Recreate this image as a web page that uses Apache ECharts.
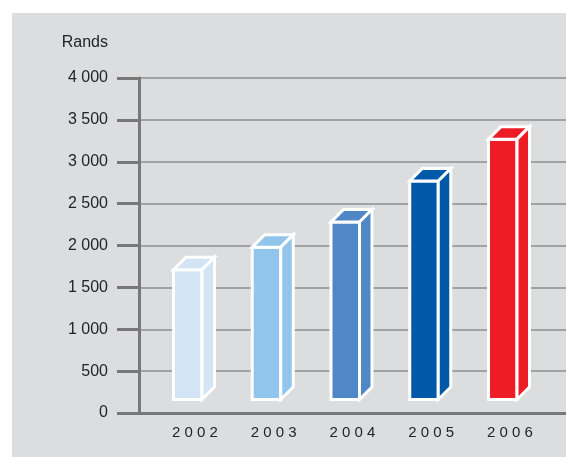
<!DOCTYPE html>
<html>
<head>
<meta charset="utf-8">
<title>Rands 2002–2006</title>
<script src="https://cdn.jsdelivr.net/npm/echarts@6/dist/echarts.min.js"></script>
<style>
  html, body { margin: 0; padding: 0; background: #ffffff; }
  #panel { position: absolute; left: 12px; top: 13px; width: 554px; height: 444px; background: #dcdddf; }
  #chart { position: absolute; left: 0; top: 0; width: 566px; height: 457px; }
</style>
</head>
<body>
<div id="panel"></div>
<div id="chart"></div>
<script>
// Yearly amounts in rands
const years = ['2002', '2003', '2004', '2005', '2006'];
const rands = [1710, 1980, 2280, 2770, 3270];

// Value axis range and step
const axisMin = 0;
const axisMax = 4000;
const axisStep = 500;
const axisTitle = 'Rands';

// Face colour of each column
const barColors = ['#d3e4f4', '#92c5ec', '#4f87c7', '#0058a8', '#ee1c25'];

const font = '"Liberation Sans", Arial, Helvetica, sans-serif';
const axisGrey = '#787878';
const textColor = '#242424';

// "4 000" style thousands grouping
function groupThousands(v) {
  return String(v).replace(/\B(?=(\d{3})+(?!\d))/g, ' ');
}

// Draws one column as a box: front face, top face and right side
function renderColumn(params, api) {
  const topPt = api.coord([api.value(0), api.value(1)]);
  const basePt = api.coord([api.value(0), 0]);
  const cx = topPt[0];
  const top = topPt[1];
  const depth = 12.5;
  const left = cx - 21.5;
  const edge = cx + 7;
  const right = edge + depth;
  const bottom = basePt[1] - 13.5;
  const style = {
    fill: barColors[params.dataIndex],
    stroke: '#ffffff',
    lineWidth: 3,
    lineJoin: 'miter'
  };
  return {
    type: 'group',
    children: [
      { type: 'polygon', shape: { points: [[left, top], [edge, top], [edge, bottom], [left, bottom]] }, style: style },
      { type: 'polygon', shape: { points: [[left, top], [left + depth, top - depth], [right, top - depth], [edge, top]] }, style: style },
      { type: 'polygon', shape: { points: [[edge, top], [right, top - depth], [right, bottom - depth], [edge, bottom]] }, style: style }
    ]
  };
}

const chart = echarts.init(document.getElementById('chart'), null, { renderer: 'canvas' });

chart.setOption({
  animation: false,
  backgroundColor: 'transparent',
  grid: [
    { left: 139, right: 0, top: 78, bottom: 44 },
    { left: 155.6, right: 16.6, top: 78, bottom: 44 }
  ],
  xAxis: [
    {
      gridIndex: 0,
      type: 'value',
      min: 0,
      max: 1,
      axisLine: { show: true, lineStyle: { color: axisGrey, width: 3 } },
      axisTick: { show: false },
      axisLabel: { show: false },
      splitLine: { show: false }
    },
    {
      gridIndex: 1,
      type: 'category',
      data: years,
      axisLine: { show: false },
      axisTick: { show: false },
      splitLine: { show: false },
      axisLabel: {
        margin: 12,
        color: textColor,
        fontSize: 15,
        fontFamily: font,
        formatter: function (v) { return v.split('').join(' '); }
      }
    }
  ],
  yAxis: [
    {
      gridIndex: 0,
      type: 'value',
      min: axisMin,
      max: axisMax,
      interval: axisStep,
      name: axisTitle,
      nameLocation: 'end',
      nameGap: 35,
      nameTextStyle: {
        color: textColor,
        fontSize: 16,
        fontFamily: font,
        align: 'right',
        verticalAlign: 'middle',
        padding: [0, 31, 0, 0]
      },
      axisLine: { show: true, lineStyle: { color: axisGrey, width: 3 } },
      axisTick: { show: true, inside: false, length: 22, lineStyle: { color: axisGrey, width: 3 } },
      axisLabel: {
        margin: 31,
        color: textColor,
        fontSize: 16,
        fontFamily: font,
        formatter: groupThousands
      },
      splitLine: { show: true, lineStyle: { color: '#8e8e8e', width: 1.5 } }
    },
    {
      gridIndex: 1,
      type: 'value',
      min: axisMin,
      max: axisMax,
      show: false
    }
  ],
  series: [
    {
      type: 'custom',
      xAxisIndex: 1,
      yAxisIndex: 1,
      renderItem: renderColumn,
      data: rands.map(function (v, i) { return [i, v]; }),
      z: 5
    }
  ]
});
</script>
</body>
</html>
